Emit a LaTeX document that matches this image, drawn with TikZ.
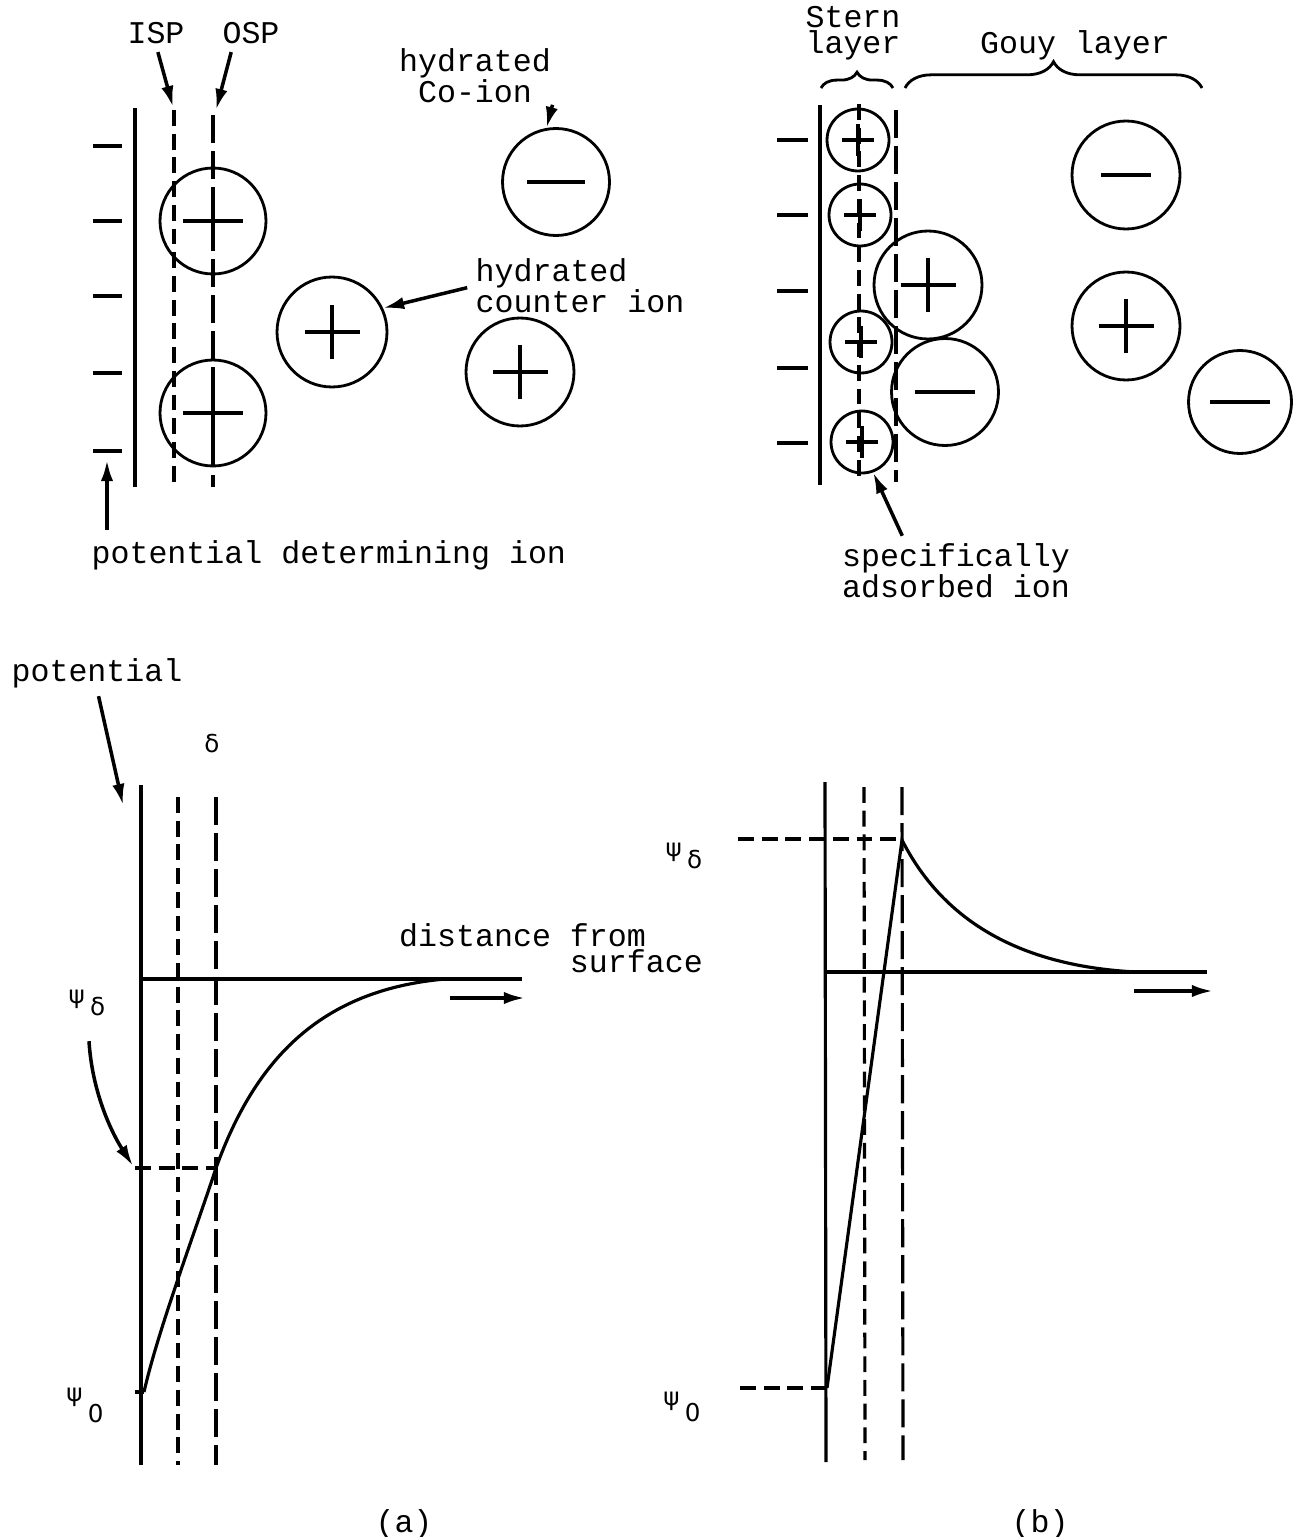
\documentclass[tikz,border=0pt]{standalone}
\usepackage{fontspec}
\setmainfont{Liberation Mono}
\newfontfamily\greekfont{DejaVu Sans}
\usepackage{tikz}
\usetikzlibrary{arrows.meta, positioning, calc, decorations.pathreplacing}

\begin{document}
\begin{tikzpicture}[x=0.02cm, y=-0.02cm, line width=1.8pt,
    txt/.style={font=\fontsize{18}{15}\selectfont, align=center, inner sep=0pt},
    greek/.style={font=\greekfont\fontsize{14}{14}\selectfont, inner sep=0pt},
    ion/.style={circle, draw, line width=1.6pt, inner sep=0pt, minimum size=#1},
    cation/.style={path picture={\draw[line width=2pt]
        ([xshift=-#1]path picture bounding box.center) -- ([xshift=#1]path picture bounding box.center)
        ([yshift=-#1]path picture bounding box.center) -- ([yshift=#1]path picture bounding box.center);}},
    anion/.style={path picture={\draw[line width=2pt]
        ([xshift=-#1]path picture bounding box.center) -- ([xshift=#1]path picture bounding box.center);}},
    isp/.style={dash pattern=on 9pt off 4.5pt},
    osp/.style={dash pattern=on 16pt off 4.5pt},
    charge/.style={line width=2.2pt},
    pointer/.style={-{Latex[length=12pt, width=7pt]}, line width=2pt},
    layerbrace/.style={decorate, decoration={brace, amplitude=#1}, line width=1.6pt}]

    \useasboundingbox (0,0) rectangle (1293,1537);

    % (a) top: surface, ISP and OSP
    \draw (135,108) -- (135,487);
    \foreach \y in {146,221,296,373,451} \draw[charge] (93,\y) -- (122,\y);
    \draw[isp] (174,110) -- (174,487);
    \draw[osp] (213,115) -- (213,487);
    \coordinate (ispTop) at (173,107);
    \coordinate (ospTop) at (216,110);
    \coordinate (pdiTip) at (107,460);

    \node[ion=2.12cm, cation=0.6cm] (ispion1) at (213,221) {};
    \node[ion=2.12cm, cation=0.6cm] (ispion2) at (213,413) {};
    \node[ion=2.2cm, cation=0.55cm] (counter1) at (332,332) {};
    \node[ion=2.16cm, cation=0.55cm] (counter2) at (520,372) {};
    \node[ion=2.14cm, anion=0.58cm] (coion) at (556,182) {};

    \node[txt] (isp) at (156,33) {ISP};
    \node[txt] (osp) at (251,33) {OSP};
    \node[txt] (colbl) at (475,76) {hydrated\\Co-ion};
    \node[txt, align=left] (cntlbl) at (580,286) {hydrated\\counter ion};
    \node[txt, anchor=west] (pdilbl) at (90,555) {potential determining ion};

    \draw[pointer, shorten <=4pt] (isp.south) -- (ispTop);
    \draw[pointer, shorten <=4pt] ($(osp.south)!0.6!(osp.south west)$) -- (ospTop);
    \draw[pointer] (colbl.south east) -- (coion.100);
    \draw[pointer, shorten <=4pt] (cntlbl.west) -- (counter1.25);
    \draw[pointer, shorten <=5pt] (pdiTip |- pdilbl.north) -- (pdiTip);

    % (b) top: Stern and Gouy layers
    \draw (820,105) -- (820,485);
    \foreach \y in {140,215,291,368,443} \draw[charge] (777,\y) -- (808,\y);
    \draw[isp] (859,104) -- (859,483);
    \draw[osp] (896,110) -- (896,482);

    \node[ion=1.24cm, cation=0.32cm] (sa1) at (858,140) {};
    \node[ion=1.24cm, cation=0.32cm] (sa2) at (860,215) {};
    \node[ion=1.24cm, cation=0.32cm] (sa3) at (861,342) {};
    \node[ion=1.24cm, cation=0.32cm] (sa4) at (862,442) {};
    \node[ion=2.16cm, cation=0.55cm] (gc1) at (928,285) {};
    \node[ion=2.14cm, anion=0.6cm] (ga1) at (945,392) {};
    \node[ion=2.16cm, anion=0.5cm] (ga2) at (1126,175) {};
    \node[ion=2.16cm, cation=0.55cm] (gc2) at (1126,326) {};
    \node[ion=2.06cm, anion=0.6cm] (ga3) at (1240,402) {};

    \draw[layerbrace=9pt] (821,88) -- (893,88);
    \draw[layerbrace=15pt] (905,88) -- (1202,88);
    \node[txt, font=\fontsize{18}{15}\selectfont] (sternlbl) at (853,33) {Stern\\layer};
    \node[txt] (gouylbl) at (1075,45) {Gouy layer};
    \node[txt, align=left] (adslbl) at (956,571) {specifically\\adsorbed ion};
    \draw[pointer, shorten <=4pt] ($(adslbl.north west)!0.28!(adslbl.north east)$) -- (sa4.-70);

    % (a) potential profile
    \draw (141,785) -- (141,1465);
    \draw (141,979) -- (522,979);
    \draw[isp] (178,797) -- (178,1465);
    \draw[osp] (216,797) -- (216,1465);
    \draw[isp] (135,1168) -- (216,1168);
    \draw (135,1392) -- (144,1392);
    \draw (144,1392) .. controls (158,1330) and (195,1232) .. (216,1168)
        .. controls (255,1060) and (320,990) .. (445,979);

    \node[txt] (potlbl) at (97,673) {potential};
    \node[greek] (delta) at (212,744) {δ};
    \node[txt, align=left] (dstlbl) at (551,948) {distance from\\\hspace*{5.4em}surface};
    \node[greek] (psida) at (87,1003) {ψ\hspace{3pt}\raisebox{-6.5pt}{δ}};
    \node[greek] (psi0a) at (85,1405) {ψ\hspace{3pt}\raisebox{-12pt}{0}};
    \node[txt] (capa) at (404,1524) {(a)};
    \coordinate (potTip) at (123,805);
    \coordinate (psdTip) at (133,1166);
    \coordinate (dirA) at (450,998);

    \draw[pointer, shorten <=4pt] (potlbl.south) -- (potTip);
    \draw[pointer] (psida.south) ++(2,24) .. controls (92,1090) and (110,1130) .. (psdTip);
    \draw[pointer] (dirA) -- ++(75,0);

    % (b) potential profile
    \draw (825,782) -- (826,1462);
    \draw (825,972) -- (1207,972);
    \draw[isp] (864,787) -- (865,1460);
    \draw[osp] (902,787) -- (903,1460);
    \draw[isp] (738,839) -- (902,839);
    \draw[isp] (740,1388) -- (826,1388);
    \draw (827,1388) -- (902,840) .. controls (935,905) and (1000,965) .. (1136,972);

    \node[greek] (psidb) at (684,856) {ψ\hspace{3pt}\raisebox{-7pt}{δ}};
    \node[greek] (psi0b) at (682,1407) {ψ\hspace{3pt}\raisebox{-9pt}{0}};
    \node[txt] (capb) at (1040,1524) {(b)};
    \coordinate (dirB) at (1134,991);
    \draw[pointer] (dirB) -- ++(79,0);
\end{tikzpicture}
\end{document}
